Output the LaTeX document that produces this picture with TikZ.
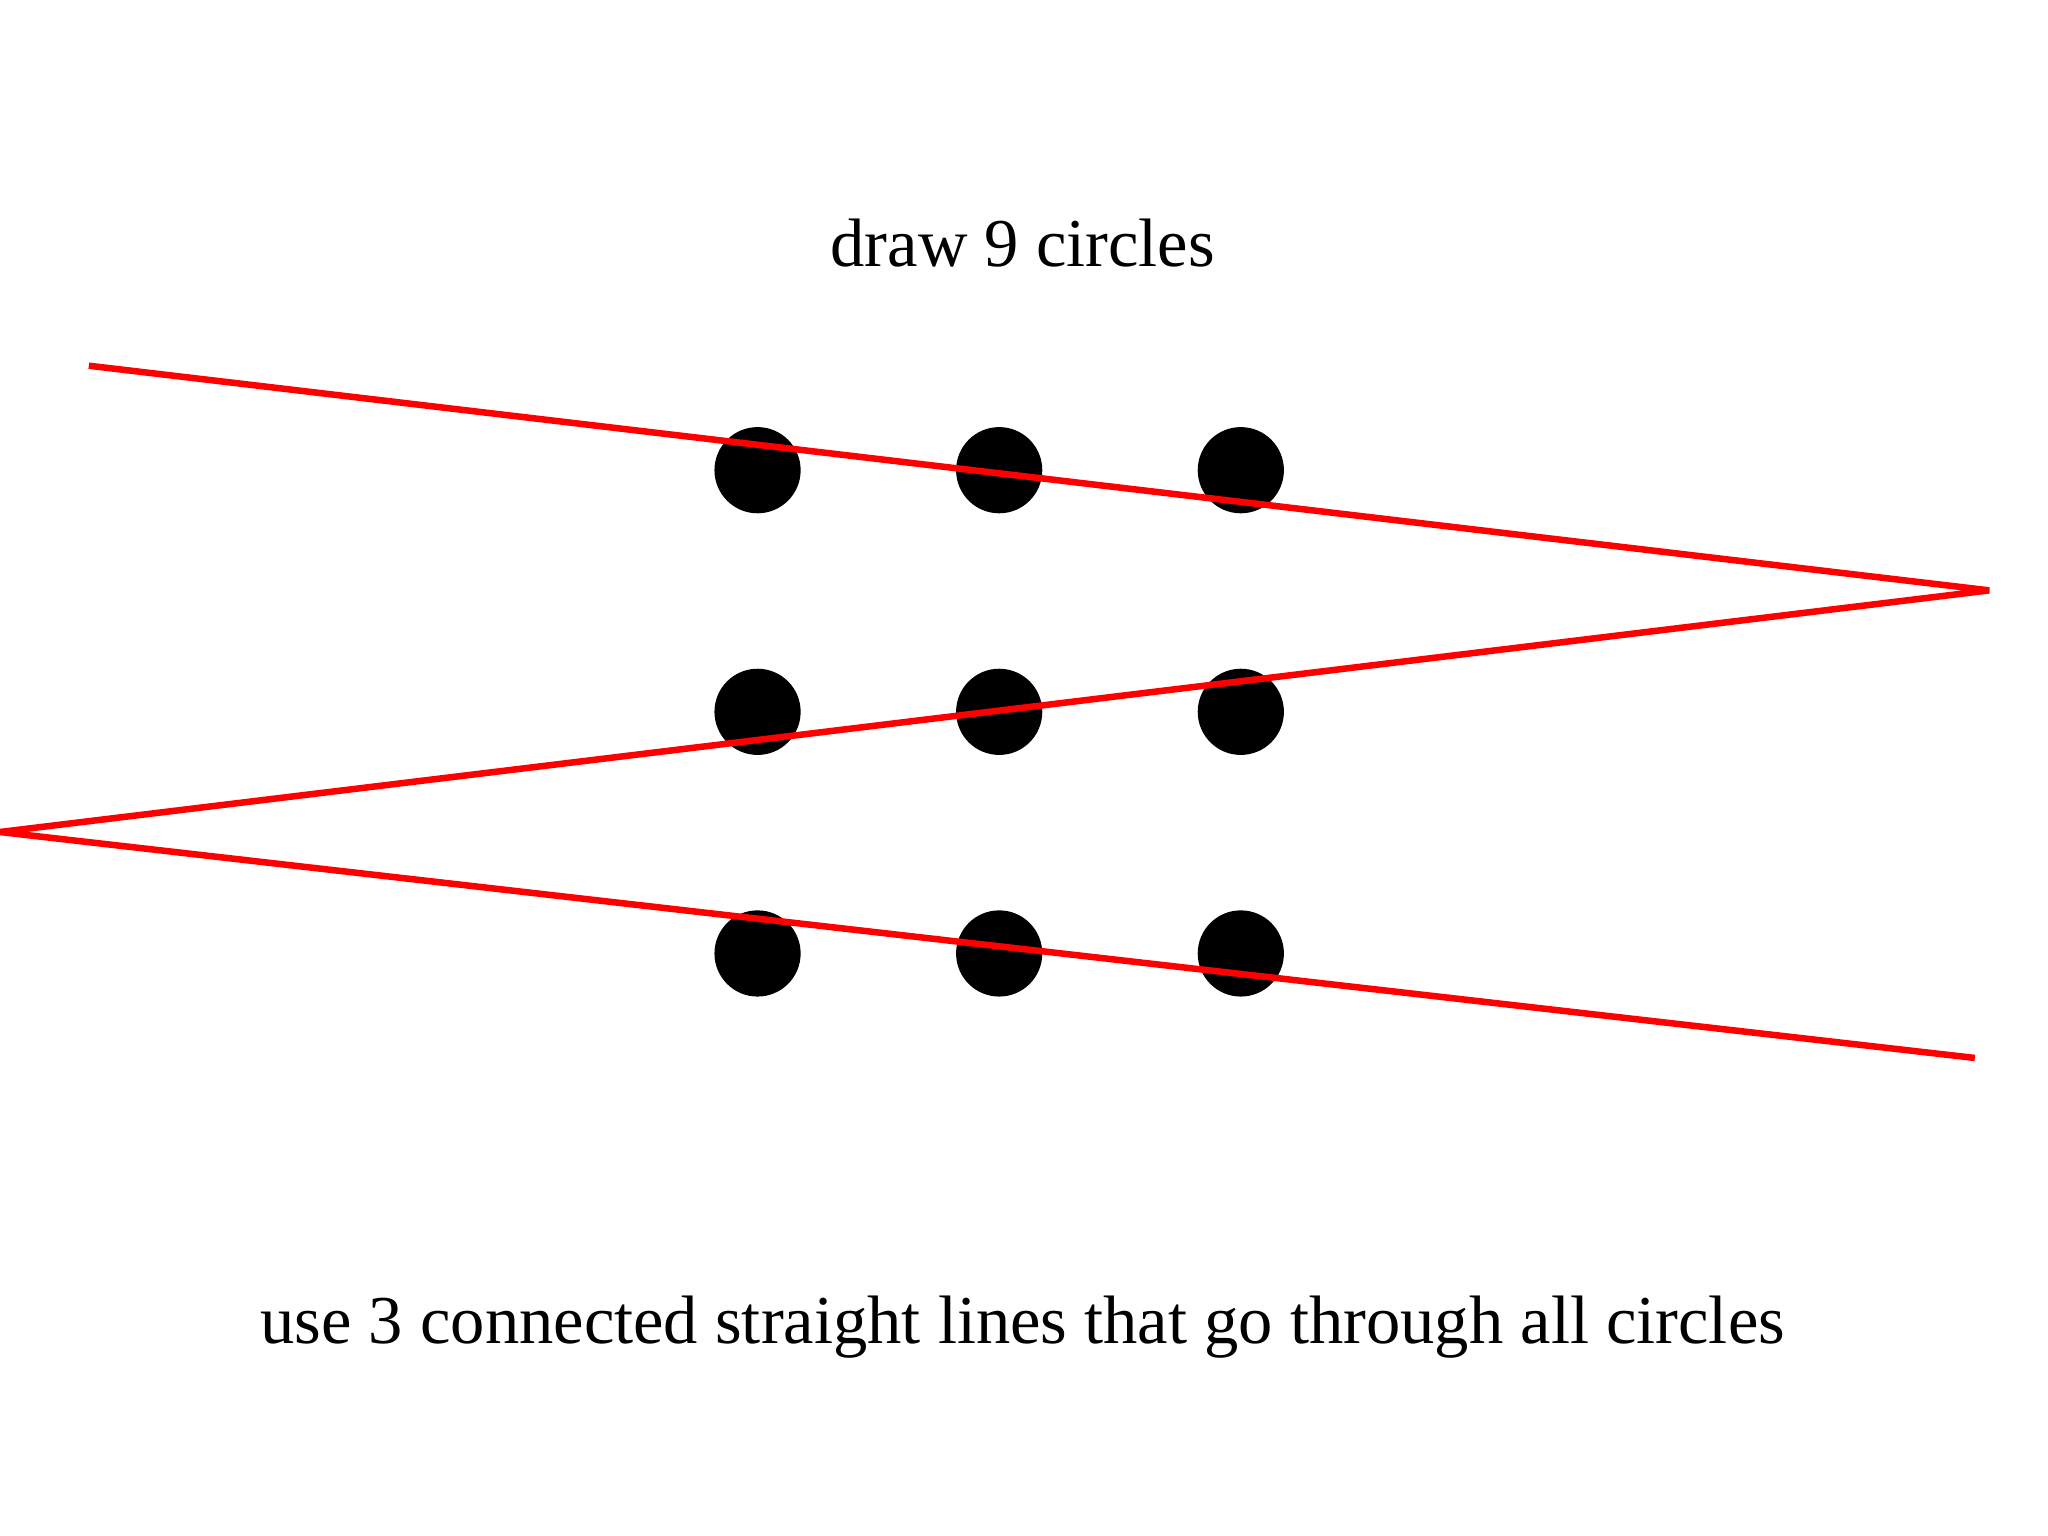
\documentclass[tikz,border=0pt]{standalone}
\usepackage{fontspec}
\setmainfont{Liberation Serif}
\begin{document}
\begin{tikzpicture}[x=0.01306cm,y=-0.01306cm,
  dot/.style={circle,fill=black,minimum size={66*0.01306cm},inner sep=0pt},
  redline/.style={red,line width=1.85pt,line join=bevel},
  lbl/.style={font=\fontsize{19.5pt}{23pt}\selectfont}]
\useasboundingbox (0,0) rectangle (1568,1176);
\foreach \i/\x in {1/580,2/765,3/950}
  \foreach \j/\y in {1/360,2/545,3/730}
    \node[dot] (c\i\j) at (\x,\y) {};
\coordinate (p1) at (68,280);
\coordinate (p2) at (1523,452);
\coordinate (p3) at (0,637);
\coordinate (p4) at (1512,810);
\draw[redline] (p1) -- (p2) -- (p3) -- (p4);
\node[lbl] (t1) at (783,186) {draw 9 circles};
\node[lbl] (t2) at (783,1016) {use 3 connected straight lines that go through all circles};
\end{tikzpicture}
\end{document}
